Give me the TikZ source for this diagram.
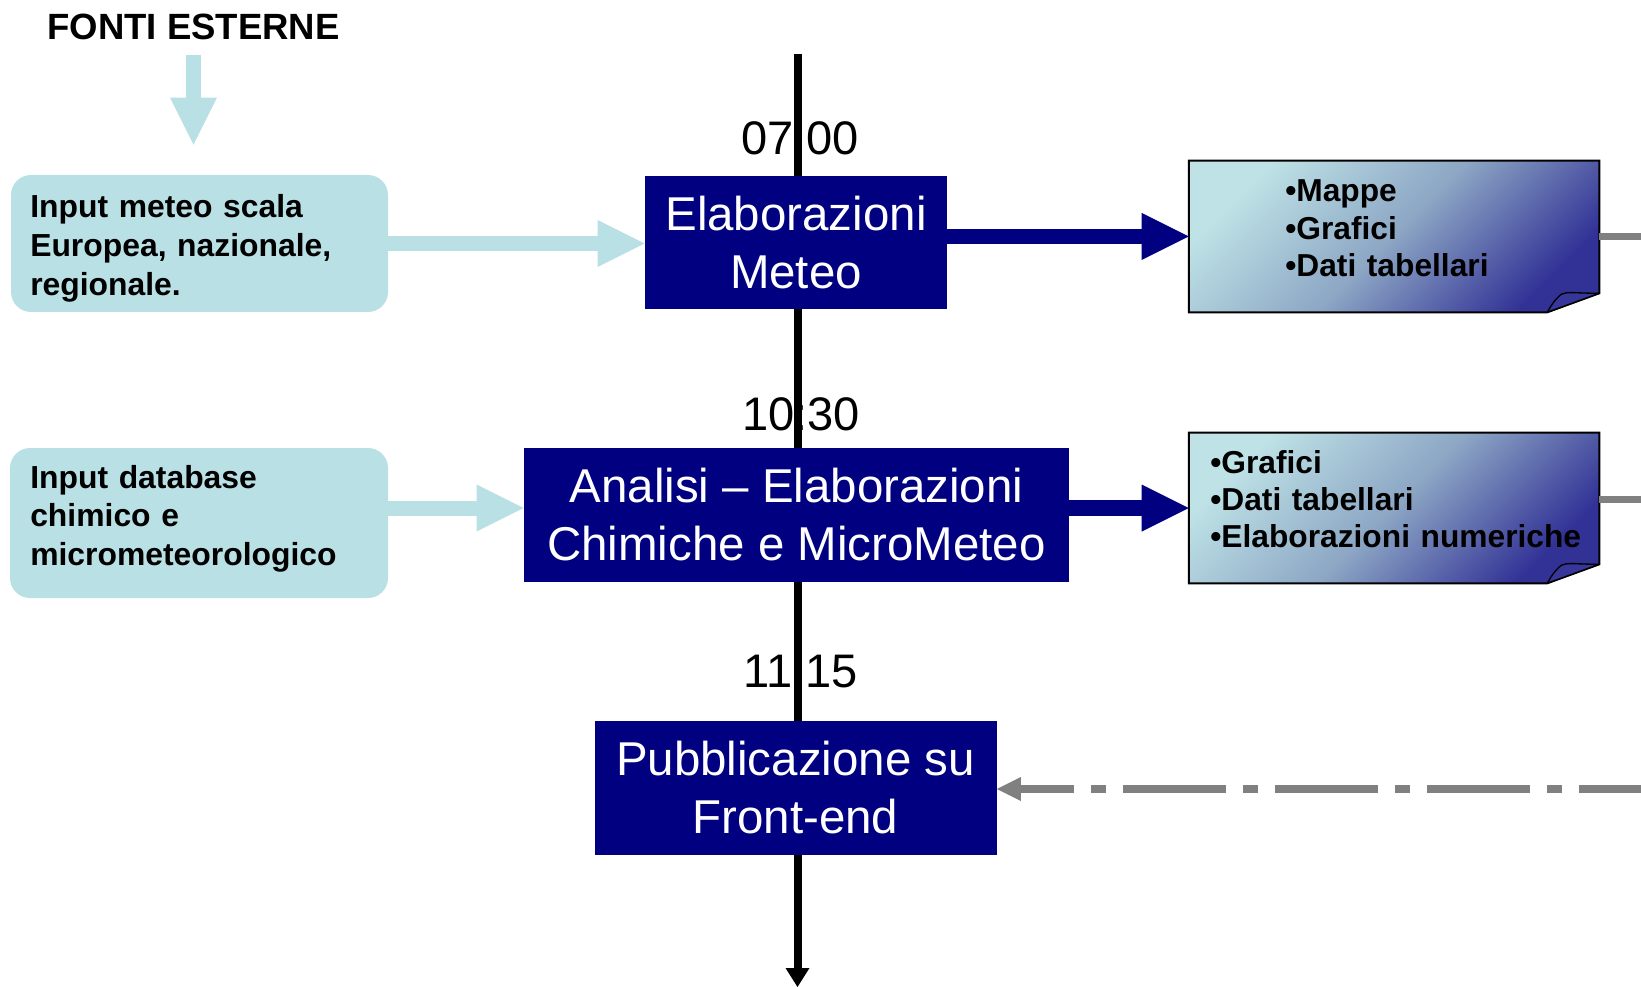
\documentclass[tikz,border=0pt]{standalone}
\usepackage{fontspec}
\setmainfont{Liberation Sans}
\usetikzlibrary{arrows.meta,calc}
\definecolor{navy}{RGB}{0,0,128}
\definecolor{lblue}{RGB}{185,224,228}
\definecolor{grayline}{RGB}{128,128,128}
\definecolor{notelight}{RGB}{190,226,230}
\definecolor{notemid}{RGB}{140,166,196}
\definecolor{notedark}{RGB}{50,50,150}
\definecolor{folddark}{RGB}{55,55,155}
\begin{document}
\begin{tikzpicture}[x=0.75pt,y=-0.75pt,
  bigbox/.style={fill=navy, text=white, inner sep=0pt, align=center,
    font=\fontsize{35.6pt}{43.5pt}\selectfont},
  inbox/.style={fill=lblue, rounded corners=15pt, inner sep=0pt},
  intext/.style={anchor=base west, inner sep=0pt, align=left,
    font=\bfseries\fontsize{23.9pt}{28.9pt}\selectfont},
  notetext/.style={anchor=base west, inner sep=0pt, align=left,
    font=\bfseries\fontsize{23.8pt}{28.1pt}\selectfont},
  notebox/.style={inner sep=0pt, minimum width=307.5pt},
  noteshade/.style={top color=notelight, bottom color=notedark, middle color=notemid,
    shading angle=45, draw=black, line width=1.5pt, line join=miter},
  fold/.style={fill=folddark, draw=black, line width=1pt, line join=round},
  timelbl/.style={anchor=base, inner sep=0pt, font=\fontsize{35.3pt}{42pt}\selectfont},
  timeline/.style={line width=6pt, black, -{Triangle[length=14.25pt,width=18pt,line width=0pt]}},
  lbarrow/.style={line width=11.25pt, lblue, -{Triangle[length=35.25pt,width=35.25pt,line width=0pt]}},
  bluearrow/.style={line width=11.6pt, navy, -{Triangle[length=35.25pt,width=35.25pt,line width=0pt]}},
  grayconn/.style={line width=5.25pt, grayline},
  dasharrow/.style={line width=6pt, grayline,
    dash pattern=on 77.25pt off 12.75pt on 11.25pt off 12.75pt, dash phase=30.75pt,
    -{Triangle[length=18pt,width=18pt,line width=0pt]}}
]
\useasboundingbox (0,0) rectangle (1641,987);

% timeline
\coordinate (ttop) at (797.5,54);
\coordinate (tbot) at (797.5,987);
\draw[timeline] (ttop) -- (tbot);

% time labels
\node[timelbl] (t1) at (800,155) {07:00};
\node[timelbl] (t2) at (801,430) {10:30};
\node[timelbl] (t3) at (800.5,687) {11:15};

% header
\node[anchor=base, inner sep=0pt, font=\bfseries\fontsize{27.4pt}{33pt}\selectfont]
  (fonti) at (193.5,40) {FONTI ESTERNE};

% input boxes
\node[inbox, minimum width=282.75pt, minimum height=102.75pt] (inmeteo) at (199.5,243.5) {};
\node[intext, text width=262.5pt] (inmeteotxt) at (30,218)
  {Input meteo scala\\Europea, nazionale,\\regionale.};
\node[inbox, minimum width=283.5pt, minimum height=112.5pt] (indb) at (199,523) {};
\node[intext, text width=262.5pt] (indbtxt) at (30,488)
  {Input database\\chimico e\\micrometeorologico};

% main boxes
\node[bigbox, minimum width=226.5pt, minimum height=99.75pt] (elab) at (796,242.5)
  {Elaborazioni\\Meteo};
\node[bigbox, minimum width=408.75pt, minimum height=100.5pt] (analisi) at (796.5,515)
  {Analisi -- Elaborazioni\\Chimiche e MicroMeteo};
\node[bigbox, minimum width=301.5pt, minimum height=100.5pt] (pub) at (795.5,788)
  {Pubblicazione su\\Front-end};

% notes
\node[notebox, minimum height=113.25pt] (note1) at (1394,236.5) {};
\node[notebox, minimum height=112.5pt] (note2) at (1394,508) {};
\foreach \n in {note1,note2}{
  \shadedraw[noteshade] (\n.north west) -- (\n.north east) -- ($(\n.south east)+(0,-19)$)
    -- ($(\n.south east)+(-52,0)$) -- (\n.south west) -- cycle;
  \filldraw[fold] ($(\n.south east)+(-52,0)$) .. controls +(5,-9) and +(-5,4) ..
    ($(\n.south east)+(-38,-18)$) .. controls +(6,-3) and +(-25,0) ..
    ($(\n.south east)+(0,-19)$) -- cycle;
}
\node[notetext, text width=225pt] (note1txt) at (1285,202)
  {\textbullet Mappe\\\textbullet Grafici\\\textbullet Dati tabellari};
\node[notetext, text width=288.75pt] (note2txt) at (1210,473)
  {\textbullet Grafici\\\textbullet Dati tabellari\\\textbullet Elaborazioni numeriche};

% connectors
\draw[lbarrow, shorten <=10.5pt, shorten >=22.5pt] (fonti.south) -- (fonti.south |- inmeteo.north);
\draw[lbarrow] (inmeteo.east) -- (inmeteo.east -| elab.west);
\draw[lbarrow] (indb.east |- note2.west) -- (analisi.west |- note2.west);
\draw[bluearrow] (elab.east |- note1.west) -- (note1.west);
\draw[bluearrow] (analisi.east |- note2.west) -- (note2.west);

\coordinate (out1) at (1641,237);
\coordinate (out2) at (1641,499);
\draw[grayconn] (note1.east |- out1) -- (out1);
\draw[grayconn] (note2.east |- out2) -- (out2);

\coordinate (in3) at (1641,789);
\draw[dasharrow] (in3) -- (in3 -| pub.east);
\end{tikzpicture}
\end{document}
